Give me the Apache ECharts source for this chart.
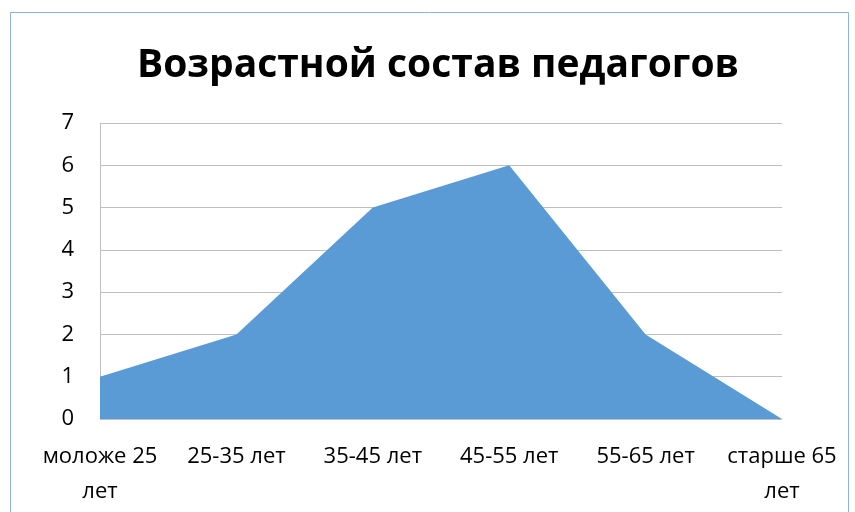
<!DOCTYPE html>
<html><head><meta charset="utf-8">
<script src="https://cdn.jsdelivr.net/npm/echarts@6/dist/echarts.min.js"></script>
<style>html,body{margin:0;padding:0;background:#fff}#c{width:855px;height:512px}</style>
</head><body><div id="c"></div>
<script>
const categories = ['моложе 25 лет', '25-35 лет', '35-45 лет', '45-55 лет', '55-65 лет', 'старше 65 лет'];
const values = [1, 2, 5, 6, 2, 0];
const yTicks = [0, 1, 2, 3, 4, 5, 6, 7];
const titleText = 'Возрастной состав педагогов';

const FONT = '"Open Sans", sans-serif';
const chart = echarts.init(document.getElementById('c'), null, {renderer: 'canvas'});
chart.setOption({
  animation: false,
  backgroundColor: '#fff',
  graphic: [{
    type: 'rect', left: 8, top: 10, silent: true,
    shape: {width: 838, height: 520},
    style: {fill: 'none', stroke: '#8DB3E2', lineWidth: 1}
  }],
  title: {
    text: titleText, left: 132, top: 41,
    textStyle: {fontFamily: FONT, fontWeight: 'bold', fontSize: 39, color: '#000'}
  },
  grid: {left: 100, right: 73, top: 123, bottom: 93},
  xAxis: {
    type: 'category', data: categories, boundaryGap: false,
    axisLine: {show: false}, axisTick: {show: false},
    axisLabel: {
      color: '#000', fontFamily: FONT, fontSize: 22, margin: 20,
      lineHeight: 35, interval: 0,
      formatter: v => v.length > 10 ? v.replace(/ (\S+)$/, '\n$1') : v
    }
  },
  yAxis: {
    type: 'value', min: yTicks[0], max: yTicks[yTicks.length - 1], interval: 1,
    axisLine: {show: true, lineStyle: {color: '#BFBFBF'}}, axisTick: {show: false},
    splitLine: {lineStyle: {color: '#BFBFBF'}},
    axisLabel: {color: '#000', fontFamily: FONT, fontSize: 22, margin: 26}
  },
  series: [{
    type: 'line', data: values, symbol: 'none',
    lineStyle: {width: 0}, areaStyle: {color: '#5B9BD5', opacity: 1}
  }]
});
</script></body></html>
